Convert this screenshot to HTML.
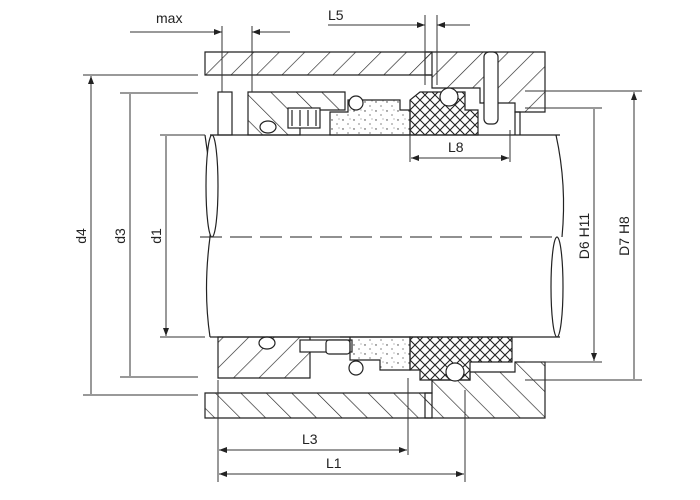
<!DOCTYPE html>
<html><head><style>body{margin:0;background:#fff}svg{display:block}</style></head><body>
<svg width="700" height="500" viewBox="0 0 700 500" xmlns="http://www.w3.org/2000/svg" font-family="Liberation Sans, sans-serif">
<defs>
<pattern id="h" patternUnits="userSpaceOnUse" width="18" height="18" patternTransform="rotate(45)"><line x1="0" y1="0" x2="0" y2="18" stroke="#222" stroke-width="1.3"/></pattern>
<pattern id="h2" patternUnits="userSpaceOnUse" width="18" height="18" patternTransform="rotate(-45)"><line x1="0" y1="0" x2="0" y2="18" stroke="#222" stroke-width="1.3"/></pattern>
<pattern id="x" patternUnits="userSpaceOnUse" width="10" height="10"><path d="M0 0L10 10M10 0L0 10" stroke="#222" stroke-width="1.1"/></pattern>
<pattern id="d" patternUnits="userSpaceOnUse" width="11" height="9"><circle cx="2" cy="3" r=".7" fill="#333"/><circle cx="7" cy="7" r=".6" fill="#333"/><circle cx="9" cy="2" r=".5" fill="#555"/></pattern>
<marker id="a" markerWidth="8" markerHeight="6" refX="8" refY="3" orient="auto-start-reverse"><path d="M0 0L8 3L0 6z" fill="#222"/></marker>
</defs>
<g stroke="#222" stroke-width="1.2" fill="none">
<path d="M205 52H432V75H205Z" fill="url(#h)"/>
<path d="M425 52H545V112H515V103H480V88H432V75H425Z" fill="url(#h)"/>
<rect x="484" y="52" width="14" height="72" rx="5" fill="#fff"/>
<path d="M205 393H432V418H205Z" fill="url(#h2)"/>
<path d="M425 418H545V362H515V372H470V380H432V393H425Z" fill="url(#h2)"/>
<rect x="218" y="92" width="14" height="43" fill="#fff"/>
<path d="M248 92H345V110H300V135H248Z" fill="url(#h2)"/>
<rect x="288" y="108" width="32" height="20" fill="#fff"/>
<path d="M292 110v16M300 110v16M308 110v16M316 110v16"/>
<ellipse cx="268" cy="127" rx="8" ry="6" fill="#fff"/>
<path d="M330 135V112H348V100H400V110H410V135Z" fill="url(#d)"/>
<circle cx="356" cy="103" r="7" fill="#fff"/>
<path d="M410 135V100L420 92H465V110H478V135Z" fill="url(#x)"/>
<circle cx="449" cy="97" r="9" fill="#fff"/>
<path d="M515 135V112H520V135"/>
<path d="M218 337H310V378H218Z" fill="url(#h)"/>
<ellipse cx="267" cy="343" rx="8" ry="6" fill="#fff"/>
<rect x="300" y="340" width="52" height="12" fill="#fff"/>
<rect x="326" y="340" width="24" height="14" rx="3" fill="#fff"/>
<path d="M340 337H410V370H380V360H350V337Z" fill="url(#d)"/>
<circle cx="356" cy="368" r="7" fill="#fff"/>
<path d="M410 337H512V362H470V380H420V370H410Z" fill="url(#x)"/>
<circle cx="455" cy="372" r="9" fill="#fff"/>
<path d="M210 135H560M210 337H560" />
<path d="M205 135Q213 185 210 237Q203 290 210 337"/>
<ellipse cx="212" cy="186" rx="6" ry="51" fill="#fff"/>
<path d="M556 135Q567 185 562 237"/>
<ellipse cx="557" cy="287" rx="6" ry="50" fill="#fff"/>
<path d="M200 237H560" stroke-dasharray="22 8" stroke-width="1"/>
</g>
<g stroke="#333" stroke-width="1" fill="none">
<path d="M83 75H198M83 395H198M120 93H198M120 377H198M160 135H205M160 337H205"/>
<path d="M91 76V394M130 94V376M166 136V336" marker-start="url(#a)" marker-end="url(#a)"/>
<path d="M525 91H642M525 380H642M525 108H602M525 362H602"/>
<path d="M634 92V379M594 109V361" marker-start="url(#a)" marker-end="url(#a)"/>
<path d="M222 26V92M252 26V92M425 15V85M437 15V85"/>
<path d="M130 32H222" marker-end="url(#a)"/><path d="M290 32H252" marker-end="url(#a)"/>
<path d="M328 25H425" marker-end="url(#a)"/><path d="M470 25H437" marker-end="url(#a)"/>
<path d="M410 135V162M510 130V162"/>
<path d="M411 158H509" marker-start="url(#a)" marker-end="url(#a)"/>
<path d="M218 380V482M408 378V455M465 390V482"/>
<path d="M219 450H407" marker-start="url(#a)" marker-end="url(#a)"/>
<path d="M219 474H464" marker-start="url(#a)" marker-end="url(#a)"/>
</g>
<g font-size="14" fill="#222">
<text x="156" y="23">max</text>
<text x="328" y="20">L5</text>
<text x="448" y="152">L8</text>
<text x="302" y="444">L3</text>
<text x="326" y="468">L1</text>
<text transform="translate(86 236) rotate(-90)" text-anchor="middle">d4</text>
<text transform="translate(125 236) rotate(-90)" text-anchor="middle">d3</text>
<text transform="translate(161 236) rotate(-90)" text-anchor="middle">d1</text>
<text transform="translate(589 236) rotate(-90)" text-anchor="middle">D6 H11</text>
<text transform="translate(629 236) rotate(-90)" text-anchor="middle">D7 H8</text>
</g>
</svg>
</body></html>
